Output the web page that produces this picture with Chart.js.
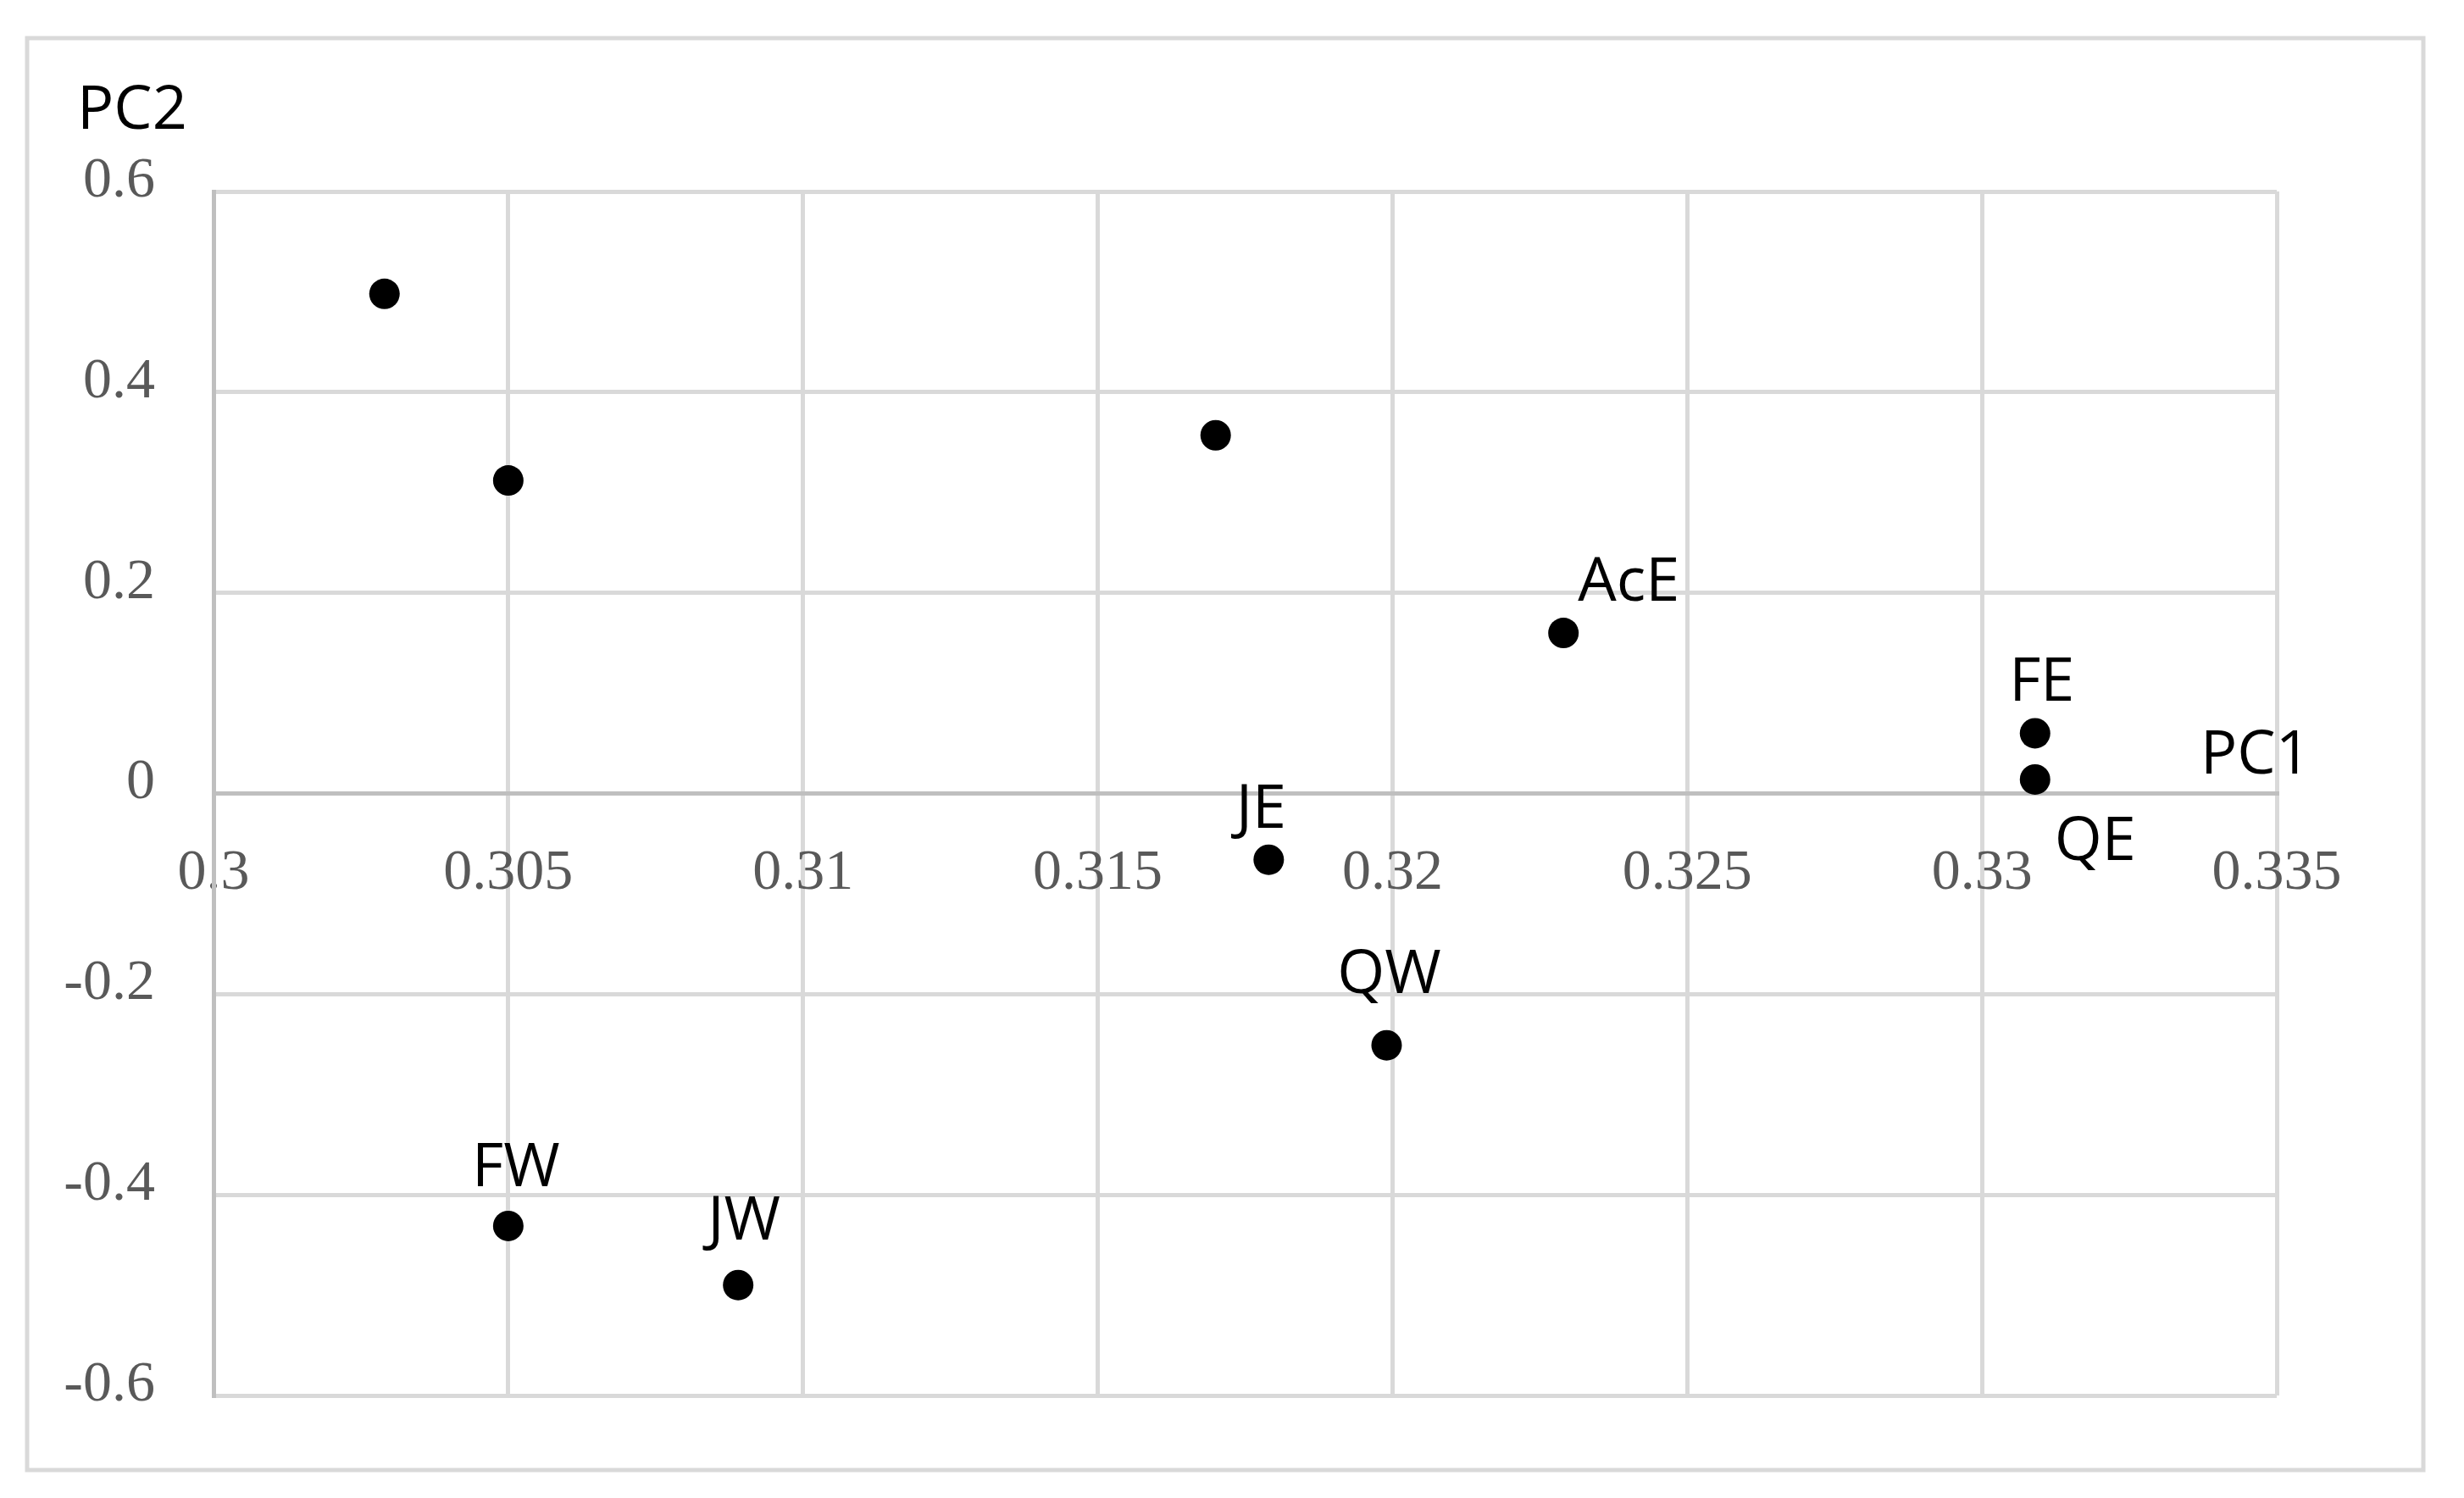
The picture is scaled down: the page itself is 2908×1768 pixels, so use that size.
<!DOCTYPE html>
<html>
<head>
<meta charset="utf-8">
<title>PC1 / PC2</title>
<script src="https://cdn.jsdelivr.net/npm/chart.js@4.4.1/dist/chart.umd.min.js"></script>
<style>
  html, body { margin: 0; padding: 0; background: #fff; }
  #wrap { width: 2908px; height: 1768px; }
</style>
</head>
<body>
<div id="wrap"><canvas id="pca" width="2908" height="1768"></canvas></div>
<script>
// scores
const pointNames = ['', '', '', 'AcE', 'FE', 'QE', 'JE', 'QW', 'FW', 'JW'];
const pc1Values = [0.3029, 0.3050, 0.3170, 0.3229, 0.3309, 0.3309, 0.3179, 0.3199, 0.3050, 0.3089];
const pc2Values = [0.498, 0.312, 0.357, 0.160, 0.060, 0.014, -0.066, -0.251, -0.431, -0.490];

const xTicks = [0.3, 0.305, 0.31, 0.315, 0.32, 0.325, 0.33, 0.335];
const xTickLabels = ['0.3', '0.305', '0.31', '0.315', '0.32', '0.325', '0.33', '0.335'];
const yTicks = [-0.6, -0.4, -0.2, 0, 0.2, 0.4, 0.6];
const yTickLabels = ['-0.6', '-0.4', '-0.2', '0', '0.2', '0.4', '0.6'];

// where each data label sits relative to its point (label centre x, baseline y)
const labelPlace = {
    AcE: { dx: 77, dy: -38 },
    FE:  { dx: 8,  dy: -38 },
    QE:  { dx: 71, dy: 95 },
    JE:  { dx: -9, dy: -38 },
    QW:  { dx: 3,  dy: -62 },
    FW:  { dx: 9,  dy: -47 },
    JW:  { dx: 7,  dy: -54 }
};

const labelFont = '72px "Open Sans"';
const tickFont = { family: '"Liberation Serif", "Times New Roman", serif', size: 68 };

const framePlugin = {
    id: 'frame',
    beforeDraw(chart) {
        const ctx = chart.ctx;
        ctx.save();
        ctx.fillStyle = '#fff';
        ctx.fillRect(0, 0, chart.width, chart.height);
        ctx.strokeStyle = '#d9d9d9';
        ctx.lineWidth = 5;
        ctx.strokeRect(32, 45, 2828, 1690);
        ctx.restore();
    },
    afterDraw(chart) {
        // axis names, placed like the Excel text boxes
        const ctx = chart.ctx;
        ctx.save();
        ctx.font = labelFont;
        ctx.fillStyle = '#000';
        ctx.textAlign = 'left';
        ctx.textBaseline = 'alphabetic';
        ctx.fillText('PC2', 91, 152);
        ctx.fillText('PC1', 2597, 913);
        ctx.restore();
    }
};

const pointLabels = {
    id: 'pointLabels',
    afterDatasetsDraw(chart) {
        const ctx = chart.ctx;
        const meta = chart.getDatasetMeta(0);
        ctx.save();
        ctx.font = labelFont;
        ctx.fillStyle = '#000';
        ctx.textAlign = 'center';
        ctx.textBaseline = 'alphabetic';
        meta.data.forEach(function (pt, i) {
            const name = pointNames[i];
            if (!name) return;
            const p = labelPlace[name];
            ctx.fillText(name, pt.x + p.dx, pt.y + p.dy);
        });
        ctx.restore();
    }
};

new Chart(document.getElementById('pca'), {
    type: 'scatter',
    data: {
        datasets: [{
            data: pc1Values.map((x, i) => ({ x: x, y: pc2Values[i] })),
            pointRadius: 18,
            pointHoverRadius: 18,
            pointBackgroundColor: '#000',
            pointBorderWidth: 0
        }]
    },
    options: {
        responsive: false,
        devicePixelRatio: 1,
        animation: false,
        events: [],
        layout: { padding: { left: 0, top: 226, right: 221, bottom: 121 } },
        plugins: { legend: { display: false }, tooltip: { enabled: false } },
        scales: {
            x: {
                type: 'linear',
                min: 0.3,
                max: 0.335,
                position: { y: 0 },
                afterBuildTicks: s => { s.ticks = xTicks.map(v => ({ value: v })); },
                afterFit: s => { s.height = 0; },
                grid: {
                    color: c => (c.tick && c.tick.value === 0.3) ? '#bfbfbf' : '#d9d9d9',
                    lineWidth: 5,
                    drawTicks: false
                },
                border: { color: '#bfbfbf', width: 5 },
                ticks: {
                    callback: (v, i) => xTickLabels[i],
                    font: tickFont,
                    color: '#595959',
                    padding: 54,
                    maxRotation: 0,
                    autoSkip: false
                }
            },
            y: {
                type: 'linear',
                min: -0.6,
                max: 0.6,
                position: 'left',
                afterBuildTicks: s => { s.ticks = yTicks.map(v => ({ value: v })); },
                afterFit: s => { s.width = 252; },
                grid: {
                    color: c => (c.tick && c.tick.value === 0) ? '#bfbfbf' : '#d9d9d9',
                    lineWidth: 5,
                    drawTicks: false
                },
                border: { color: '#bfbfbf', width: 5 },
                ticks: {
                    callback: (v, i) => yTickLabels[i],
                    font: tickFont,
                    color: '#595959',
                    padding: 69,
                    labelOffset: -12,
                    autoSkip: false
                }
            }
        }
    },
    plugins: [framePlugin, pointLabels]
});
</script>
</body>
</html>
